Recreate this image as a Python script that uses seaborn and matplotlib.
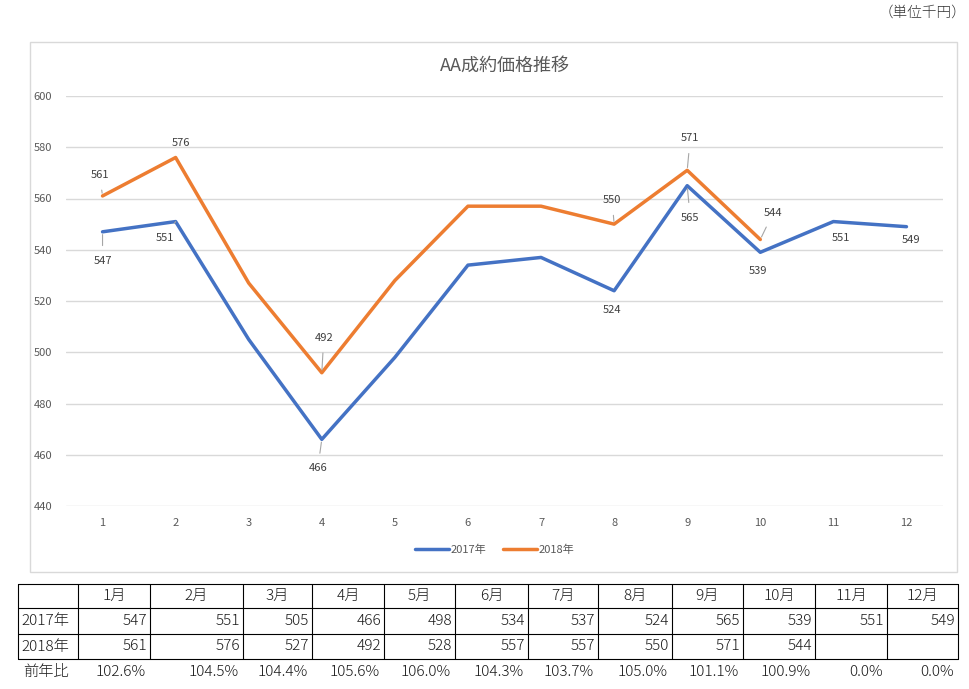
import pandas as pd
import seaborn as sns
import matplotlib.pyplot as plt
from matplotlib.patches import Rectangle

months = list(range(1, 13))
month_labels = [f"{m}月" for m in months]
sales_2017 = [547, 551, 505, 466, 498, 534, 537, 524, 565, 539, 551, 549]
sales_2018 = [561, 576, 527, 492, 528, 557, 557, 550, 571, 544, None, None]
series_names = ["2017年", "2018年"]

# which points get a data label (month -> offset in pixels, leader line or not)
label_2017 = {1: (0, -29, True), 2: (-11, -16, True), 4: (-4, -29, True), 8: (-2, -19, False),
              9: (3, -32, True), 10: (-2, -19, False), 11: (8, -16, False), 12: (5, -13, False)}
label_2018 = {1: (-3, 21, True), 2: (5, 15, False), 4: (2, 35, True), 8: (-2, 24, True),
              9: (3, 32, True), 10: (13, 27, True)}

rows = []
for m, a, b in zip(months, sales_2017, sales_2018):
    rows.append({"month": m, "value": a, "year": series_names[0]})
    if b is not None:
        rows.append({"month": m, "value": b, "year": series_names[1]})
df = pd.DataFrame(rows)

sns.set_theme(style="white")
plt.rcParams['font.family'] = ['Noto Sans CJK JP', 'DejaVu Sans']

W, H = 970, 689
fig = plt.figure(figsize=(9.7, 6.89), dpi=100)

# background layer in pixel coords (chart frame + table)
bg = fig.add_axes([0, 0, 1, 1])
bg.set_xlim(0, W)
bg.set_ylim(H, 0)
bg.axis('off')
bg.add_patch(Rectangle((30, 42), 927, 530, fill=False, edgecolor='#D9D9D9', lw=1))
bg.text(966, 13, "（単位千円）", ha='right', va='center', fontsize=10.5, color='#333333',
        fontweight='light')

ax = fig.add_axes([66 / W, 1 - 506 / H, (943 - 66) / W, (506 - 96) / H])
colors = {"2017年": "#4472C4", "2018年": "#ED7D31"}
sns.lineplot(data=df, x="month", y="value", hue="year", palette=colors, lw=2.5, ax=ax, legend=False)

ax.set_xlim(0.5, 12.5)
ax.set_ylim(440, 600)
ax.set_xticks(months)
ax.set_yticks(range(440, 601, 20))
ax.grid(axis='y', color='#D9D9D9', lw=1)
ax.grid(axis='x', visible=False)
for s in ax.spines.values():
    s.set_visible(False)
ax.tick_params(length=0, labelsize=8, colors='#595959')
ax.tick_params(axis='y', pad=10)
ax.tick_params(axis='x', pad=9)
ax.set_xlabel("")
ax.set_ylabel("")
ax.set_title("AA成約価格推移", fontsize=13, color='#595959', pad=18)

for vals, labels in [(sales_2017, label_2017), (sales_2018, label_2018)]:
    for m, (dx, dy, leader) in labels.items():
        v = vals[m - 1]
        ap = dict(arrowstyle='-', color='#A6A6A6', lw=0.8, shrinkA=5, shrinkB=2) if leader else None
        ax.annotate(str(v), xy=(m, v), xytext=(dx, dy), textcoords='offset pixels',
                    ha='center', va='center', fontsize=8, color='#404040', arrowprops=ap)

handles = [plt.Line2D([], [], color=colors[n], lw=2.5) for n in series_names]
fig.legend(handles, series_names, loc='center', bbox_to_anchor=(495 / W, 1 - 550 / H), ncol=2,
           frameon=False, fontsize=8, handlelength=3, columnspacing=1.5, handletextpad=0.2,
           labelcolor='#595959')

# table under the chart
col_edges = [18, 78, 150, 243, 312, 384, 455, 528, 598, 672, 743, 815, 887, 958]
row_edges = [584, 608, 634, 659]
ratio = [f"{(b / a * 100) if b is not None else 0:.1f}%" for a, b in zip(sales_2017, sales_2018)]
fs = 11
tkw = dict(va='center', fontsize=fs, color='#1a1a1a', fontweight='light')
for y in row_edges:
    bg.plot([col_edges[0], col_edges[-1]], [y, y], color='black', lw=0.8)
for x in col_edges:
    bg.plot([x, x], [row_edges[0], row_edges[-1]], color='black', lw=0.8)

for i, lab in enumerate(month_labels):
    cx = (col_edges[i + 1] + col_edges[i + 2]) / 2
    bg.text(cx, 596, lab, ha='center', **tkw)

table_rows = [(series_names[0], sales_2017, 621), (series_names[1], sales_2018, 646.5)]
for name, vals, y in table_rows:
    bg.text(col_edges[0] + 3, y, name, ha='left', **tkw)
    for i, v in enumerate(vals):
        if v is not None:
            bg.text(col_edges[i + 2] - 3, y, str(v), ha='right', **tkw)

bg.text(col_edges[0] + 5, 672, "前年比", ha='left', **tkw)
for i, r in enumerate(ratio):
    bg.text(col_edges[i + 2] - 4, 672, r, ha='right', **tkw)

fig.savefig("out.png", dpi=100)
